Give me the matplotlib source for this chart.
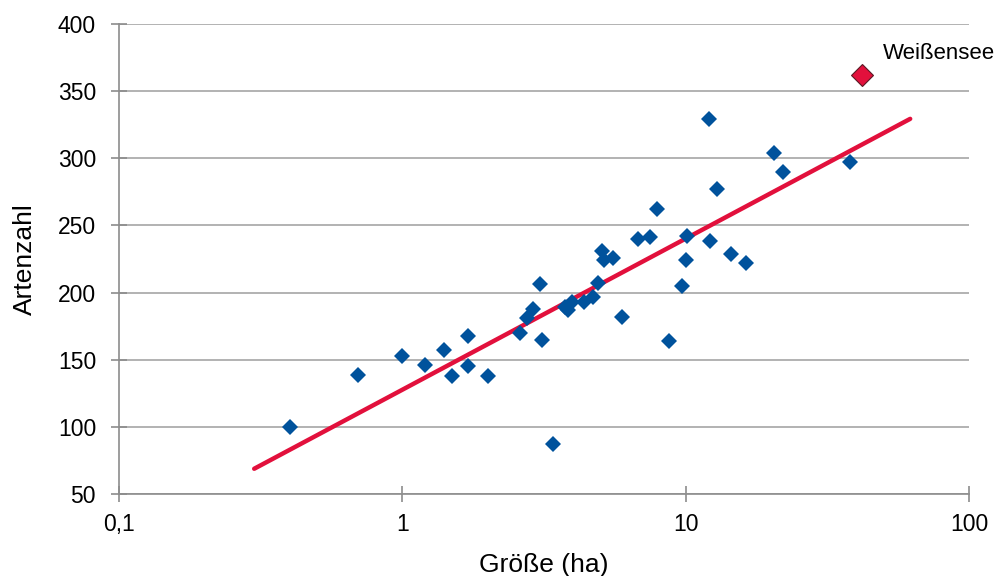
import numpy as np
import matplotlib
matplotlib.use("Agg")
import matplotlib.pyplot as plt
from matplotlib.ticker import FixedLocator, FixedFormatter, NullLocator

plt.rcParams["font.family"] = ["Liberation Sans", "DejaVu Sans"]

# lake size (ha) and species count
groesse = [0.4, 0.7, 1.0, 1.2, 1.4, 1.5, 1.7, 1.7, 2.0, 2.6,
           2.75, 2.9, 3.05, 3.1, 3.4, 3.75, 3.85, 3.96, 4.36, 4.72,
           4.92, 5.06, 5.15, 5.56, 5.94, 6.81, 7.48, 7.94, 8.7, 9.7,
           10.0, 10.1, 12.2, 12.9, 12.1, 14.4, 16.3, 20.5, 22.1, 38.0]
artenzahl = [100, 139, 153, 146, 157, 138, 168, 145, 138, 170,
             181, 188, 206, 165, 87, 189, 187, 193, 193, 197,
             207, 231, 224, 226, 182, 240, 241, 262, 164, 205,
             224, 242, 238, 277, 329, 229, 222, 304, 290, 297]

highlight_name = "Weißensee"
highlight_x = 41.8
highlight_y = 362

# logarithmic trend as shown in the chart: y = a * log10(x) + b
trend_a = 112.4
trend_b = 127.7
trend_range = [0.3, 62.0]

x_ticks = [0.1, 1, 10, 100]
x_ticklabels = ["0,1", "1", "10", "100"]
y_ticks = [50, 100, 150, 200, 250, 300, 350, 400]

blue = "#00529C"
red = "#E2103C"
grid_col = "#A6A6A6"
axis_col = "#8C8C8C"

fig = plt.figure(figsize=(10, 5.76), dpi=100)
ax = fig.add_axes([0.119, 0.142, 0.85, 0.817])

ax.set_xscale("log")
ax.set_xlim(0.1, 100)
ax.set_ylim(50, 400)

tx = np.array(trend_range)
ax.plot(tx, trend_a * np.log10(tx) + trend_b, color=red, lw=3.2,
        solid_capstyle="round", zorder=2)

ax.plot(groesse, artenzahl, linestyle="none", marker="D", markersize=8.6,
        color=blue, markeredgewidth=0, zorder=3)
ax.plot([highlight_x], [highlight_y], linestyle="none", marker="D",
        markersize=11, color=red, markeredgecolor="#5a1a24",
        markeredgewidth=0.8, zorder=4)
ax.annotate(highlight_name, (highlight_x, highlight_y), xytext=(15, 11.5),
            textcoords="offset points", fontsize=16, color="black",
            ha="left", va="baseline")

ax.xaxis.set_major_locator(FixedLocator(x_ticks))
ax.xaxis.set_major_formatter(FixedFormatter(x_ticklabels))
ax.xaxis.set_minor_locator(NullLocator())
ax.set_yticks(y_ticks)

ax.grid(axis="y", color=grid_col, lw=1.2, zorder=0)
ax.set_axisbelow(True)
for s in ["top", "right"]:
    ax.spines[s].set_visible(False)
for s in ["left", "bottom"]:
    ax.spines[s].set_color(axis_col)
    ax.spines[s].set_linewidth(1.2)
ax.tick_params(axis="both", direction="inout", colors=axis_col, length=11,
               width=1.2, labelcolor="black", labelsize=16.5)
ax.tick_params(axis="x", pad=8)
ax.tick_params(axis="y", pad=11)

ax.set_xlabel("Größe (ha)", fontsize=19, labelpad=12)
ax.set_ylabel("Artenzahl", fontsize=19, labelpad=15)

fig.savefig("out.png", dpi=100)
